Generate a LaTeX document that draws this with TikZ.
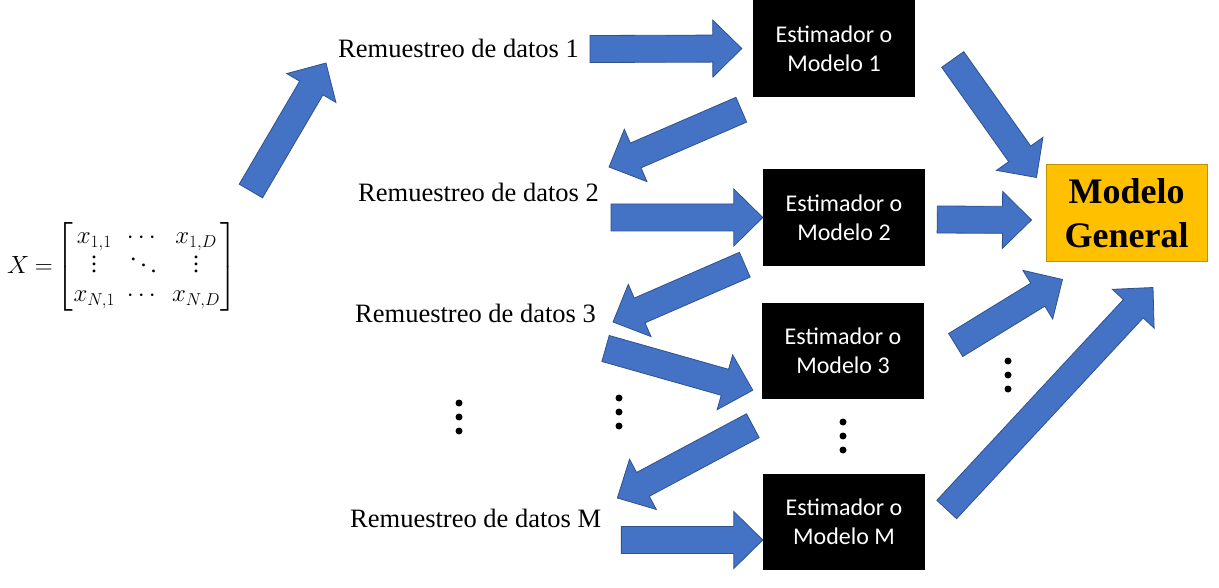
\documentclass[tikz,border=0pt]{standalone}
\usepackage{amsmath}
\usepackage{fontspec}
\setmainfont{Liberation Serif}
\newfontfamily\boxfont{Carlito}
\usepackage{tikz}
\usetikzlibrary{calc}
\definecolor{arrowblue}{HTML}{4472C4}
\definecolor{arrowedge}{HTML}{2F528F}
\definecolor{genorange}{HTML}{FFC000}
\definecolor{genedge}{HTML}{BF9000}
\newcommand{\vdotsbig}{\vbox{\baselineskip 7pt \lineskiplimit 0pt \kern 0pt \hbox{.}\hbox{.}\hbox{.}}}
\newcommand{\ddotsbig}{\mathinner{\mkern1mu\raise 12pt\hbox{.}\mkern3mu\raise 6pt\hbox{.}\mkern3mu\raise 0pt\hbox{.}\mkern1mu}}

\begin{document}
\begin{tikzpicture}[x=1pt, y=-1pt,
  model/.style={rectangle, fill=black, text=white, minimum width=162pt, minimum height=97pt, inner sep=0pt, align=center, font=\boxfont\fontsize{24}{29}\selectfont},
  sample/.style={inner sep=0pt, anchor=base west, font=\fontsize{26.5}{32}\selectfont},
  bigarrow/.style={fill=arrowblue, draw=arrowedge, line width=0.8pt,
    to path={let \p1=(\tikztostart), \p2=(\tikztotarget), \n1={atan2(\y2-\y1,\x2-\x1)}, \p3=($(\p2)+(\n1+180:29pt)$) in
      ($(\p1)+(\n1+90:13.5pt)$) -- ($(\p3)+(\n1+90:13.5pt)$) -- ($(\p3)+(\n1+90:28.5pt)$) -- (\p2)
      -- ($(\p3)+(\n1-90:28.5pt)$) -- ($(\p3)+(\n1-90:13.5pt)$) -- ($(\p1)+(\n1-90:13.5pt)$) -- cycle}}]

\useasboundingbox[fill=white] (0,0) rectangle (1219,588);

\node (mat) [anchor=west, inner sep=0pt, font=\fontsize{24}{26}\selectfont] at (7,267) {\arraycolsep=6pt\renewcommand{\arraystretch}{1.12}$X\mkern-1mu=\mkern-2mu\begin{bmatrix} x_{1,1} & \cdots & x_{1,D}\\ \vdotsbig & \ddotsbig & \vdotsbig\\ x_{N,1} & \cdots & x_{N,D}\end{bmatrix}$};

\node (r1) [sample] at (338,58) {Remuestreo de datos 1};
\node (r2) [sample] at (358,202) {Remuestreo de datos 2};
\node (r3) [sample] at (355,323) {Remuestreo de datos 3};
\node (rM) [sample] at (350,527) {Remuestreo de datos M};

\node (m1) [model] at (834,48.5) {Estimador o\\Modelo 1};
\node (m2) [model] at (844,217.5) {Estimador o\\Modelo 2};
\node (m3) [model, minimum height=96pt] at (843,351) {Estimador o\\Modelo 3};
\node (mM) [model, minimum height=96pt] at (844,522) {Estimador o\\Modelo M};

\node (gen) [rectangle, fill=genorange, draw=genedge, line width=1pt, minimum width=161pt, minimum height=97pt, align=center, font=\bfseries\fontsize{36}{44}\selectfont] at (1126.5,213.5) {Modelo\\General};

\draw[bigarrow] ($(mat.east)+(14,-76)$) to ($(r1.base west)+(-12,5)$);
\draw[bigarrow] ($(r1.base east)+(11,-9)$) to ($(m1.west)+(-11,0)$);
\draw[bigarrow] ($(m1.south west)+(-11.5,12.5)$) to ($(r2.base east)+(10,-35)$);
\draw[bigarrow] ($(r2.base east)+(12,15.5)$) to (m2.west);
\draw[bigarrow] ($(m2.south west)+(-18,-1.5)$) to ($(r3.base east)+(17,-1)$);
\draw[bigarrow] ($(r3.base east)+(9.5,25.5)$) to ($(m3.south west)+(-9,-9)$);
\draw[bigarrow] ($(m3.south west)+(-9,26.5)$) to ($(rM.base east)+(16,-29)$);
\draw[bigarrow] ($(rM.base east)+(20,13)$) to ($(mM.west)+(0,18)$);
\draw[bigarrow] ($(m1.east)+(37.5,11)$) to ($(gen.north west)+(-9,13)$);
\draw[bigarrow] ($(m2.east)+(12,2)$) to ($(gen.west)+(-14,6.5)$);
\draw[bigarrow] ($(m3.east)+(31.5,-6)$) to ($(gen.south west)+(17,17)$);
\draw[bigarrow] ($(mM.east)+(21.5,-12.5)$) to ($(gen.south)+(26.5,25)$);

\foreach \x/\y in {459/403, 619/398, 843/422, 1008/361}
  \foreach \k in {0,1,2}
    \fill (\x,\y+14*\k) circle (3.5pt);
\end{tikzpicture}
\end{document}
